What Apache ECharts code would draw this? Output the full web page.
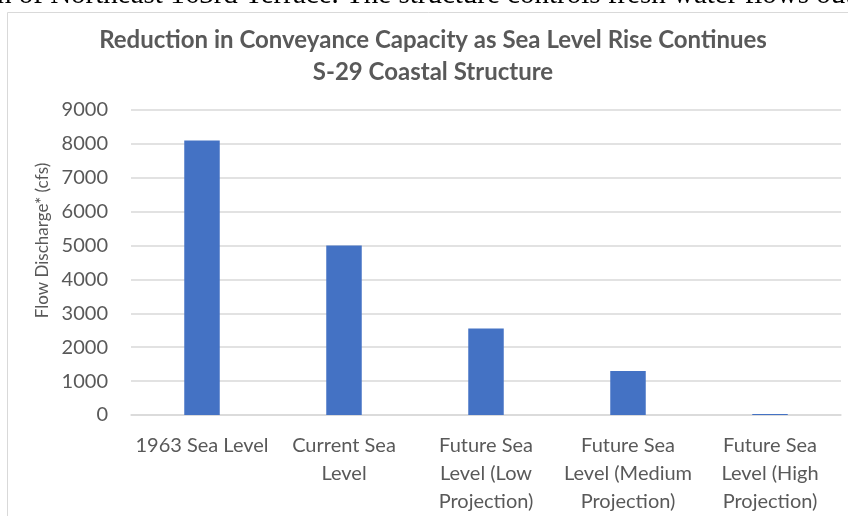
<!DOCTYPE html>
<html>
<head>
<meta charset="utf-8">
<script src="https://cdn.jsdelivr.net/npm/echarts@6/dist/echarts.min.js"></script>
<style>html,body{margin:0;padding:0;background:#fff}#c{width:848px;height:516px}</style>
</head>
<body>
<div id="c"></div>
<script>
var categories = ['1963 Sea Level', 'Current Sea\nLevel', 'Future Sea\nLevel (Low\nProjection)', 'Future Sea\nLevel (Medium\nProjection)', 'Future Sea\nLevel (High\nProjection)'];
var flowValues = [8100, 5000, 2550, 1300, 30];
var yTicks = [0, 1000, 2000, 3000, 4000, 5000, 6000, 7000, 8000, 9000];
var titleText = 'Reduction in Conveyance Capacity as Sea Level Rise Continues\nS-29 Coastal Structure';
var yAxisName = 'Flow Discharge* (cfs)';
var docText = 'n of Northeast 163rd Terrace. The structure controls fresh water flows out';

var font = 'Lato, "Open Sans", sans-serif';
var chart = echarts.init(document.getElementById('c'));
chart.setOption({
  animation: false,
  backgroundColor: '#fff',
  graphic: [
    { type: 'rect', shape: { x: 7.5, y: 12.5, width: 860, height: 520 }, style: { fill: 'none', stroke: '#d9d9d9', lineWidth: 1 }, z: 0 },
    { type: 'text', left: -3, top: -19, style: { text: docText, font: '29px "Liberation Serif", serif', fill: '#000' }, z: 10 }
  ],
  title: {
    text: titleText,
    left: 433,
    top: 24,
    padding: 0,
    textAlign: 'center',
    textStyle: { fontFamily: font, fontWeight: 'bold', fontSize: 24, color: '#595959', lineHeight: 32 }
  },
  grid: { left: 131, right: 7, top: 110, bottom: 97.5, containLabel: false },
  xAxis: {
    type: 'category',
    data: categories,
    axisLine: { show: true, lineStyle: { color: '#d9d9d9', width: 1.5 } },
    axisTick: { show: false },
    axisLabel: { interval: 0, margin: 17, fontFamily: font, fontSize: 20, color: '#595959', lineHeight: 28 }
  },
  yAxis: {
    type: 'value',
    min: 0,
    max: 9000,
    interval: 1000,
    name: yAxisName,
    nameLocation: 'middle',
    nameGap: 77,
    nameTextStyle: { fontFamily: font, fontSize: 17, color: '#595959', padding: [0, 0, 0, 44] },
    axisLine: { show: false },
    axisTick: { show: false },
    splitLine: { lineStyle: { color: '#d9d9d9', width: 1.5 } },
    axisLabel: { margin: 23, fontFamily: font, fontSize: 20, color: '#595959',
      formatter: function (v) { return yTicks.indexOf(v) >= 0 ? String(v) : ''; } }
  },
  series: [{
    type: 'bar',
    data: flowValues,
    barWidth: '25%',
    itemStyle: { color: '#4472C4' }
  }]
});
</script>
</body>
</html>
